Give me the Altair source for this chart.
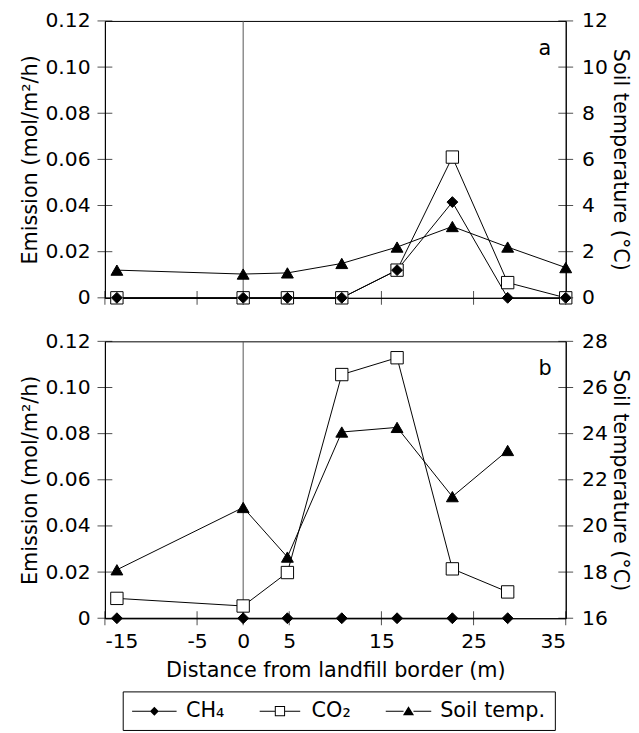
import altair as alt
import pandas as pd

# ---------------- data ----------------
distance_a = [-13.7, 0, 4.8, 10.7, 16.7, 22.7, 28.7, 35]
ch4_a = [0, 0, 0, 0, 0.012, 0.0415, 0, 0]
co2_a = [0, 0, 0, 0, 0.012, 0.061, 0.0066, 0]
temp_a = [1.2, 1.03, 1.08, 1.49, 2.2, 3.09, 2.2, 1.31]

distance_b = [-13.7, 0, 4.8, 10.7, 16.7, 22.7, 28.7]
ch4_b = [0, 0, 0, 0, 0, 0, 0]
co2_b = [0.0086, 0.0053, 0.0198, 0.1056, 0.1129, 0.0214, 0.0114]
temp_b = [18.1, 20.8, 18.65, 24.07, 24.27, 21.27, 23.27]

series_names = ["CH₄", "CO₂", "Soil temp."]
x_ticks = [-15, -5, 0, 5, 15, 25, 35]
emission_ticks = [0, 0.02, 0.04, 0.06, 0.08, 0.10, 0.12]
temp_ticks_a = [0, 2, 4, 6, 8, 10, 12]
temp_ticks_b = [16, 18, 20, 22, 24, 26, 28]
border = [0]

# ---------------- styling ----------------
FONT = "DejaVu Sans"
W, H = 466, 280
LAB = 20.5
TIT = 21
X_MIN, X_MAX = x_ticks[0], x_ticks[-1]
E_MIN, E_MAX = emission_ticks[0], emission_ticks[-1]

x_scale = alt.Scale(domain=[X_MIN, X_MAX], nice=False, zero=False)
e_scale = alt.Scale(domain=[E_MIN, E_MAX], nice=False, zero=False)

# legend symbols (line - marker - line), drawn as filled outlines only
p_ch4 = ("M-2.25,-0.05H-0.42V0.05H-2.25Z M0.42,-0.05H2.25V0.05H0.42Z "
         "M0,-0.45L0.45,0L0,0.45L-0.45,0Z")
p_co2 = ("M-2.05,-0.05H-0.52V0.05H-2.05Z M0.52,-0.05H2.05V0.05H0.52Z "
         "M-0.52,-0.52H0.52V0.52H-0.52Z M-0.42,-0.42V0.42H0.42V-0.42Z")
p_tmp = ("M-2.3,-0.05H-0.5V0.05H-2.3Z M0.5,-0.05H2.3V0.05H0.5Z "
         "M0,-0.5L0.56,0.42L-0.56,0.42Z")
legend_shape_scale = alt.Scale(domain=series_names, range=[p_ch4, p_co2, p_tmp])
legend_fill_scale = alt.Scale(domain=series_names, range=["black", "black", "black"])

legend = alt.Legend(
    title=None,
    orient="none",
    legendX=18,
    legendY=678,
    direction="horizontal",
    strokeColor="black",
    padding=9,
    symbolSize=400,
    symbolOffset=12,
    labelOffset=21,
    columnPadding=32,
    labelFont=FONT,
    labelFontSize=TIT,
    labelColor="black",
    symbolOpacity=1,
)


def panel(dist, ch4, co2, temp, t_domain, t_ticks, tag, bottom):
    n = len(dist)
    df_co2 = pd.DataFrame({"distance": dist, "value": co2, "series": [series_names[1]] * n})
    df_ch4 = pd.DataFrame({"distance": dist, "value": ch4, "series": [series_names[0]] * n})
    em = pd.concat([df_co2, df_ch4], ignore_index=True)
    tp = pd.DataFrame({"distance": dist, "value": temp, "series": [series_names[2]] * n})

    if bottom:
        x_axis = alt.Axis(values=x_ticks, labelExpr="'' + datum.value",
                          title="Distance from landfill border (m)",
                          labelPadding=14, titlePadding=7, orient="bottom")
    else:
        x_axis = alt.Axis(values=x_ticks, labels=False, title="", orient="bottom")

    y_axis = alt.Axis(values=emission_ticks,
                      labelExpr="datum.value == 0 ? '0' : format(datum.value, '.2f')",
                      title="Emission (mol/m²/h)", labelPadding=15, titlePadding=5,
                      orient="left")
    t_scale = alt.Scale(domain=t_domain, nice=False, zero=False)
    t_axis = alt.Axis(values=t_ticks, format="d", orient="right",
                      title="Soil temperature (°C)", labelPadding=16, titlePadding=2)

    def XF(f):
        return alt.X(f, scale=x_scale, axis=x_axis)

    def YEF(f):
        return alt.Y(f, scale=e_scale, axis=y_axis)

    def YTF(f):
        return alt.Y(f, scale=t_scale, axis=t_axis)

    rule = alt.Chart(pd.DataFrame({"distance": border})).mark_rule(
        color="#555", strokeWidth=1
    ).encode(x=XF("distance:Q"))

    em_line = alt.Chart(em).mark_line(color="black", strokeWidth=1).encode(
        x=XF("distance:Q"), y=YEF("value:Q"), detail="series:N",
    )
    co2_pts = alt.Chart(df_co2).mark_point(
        shape="square", filled=True, fill="white", stroke="black", strokeWidth=1, size=156, opacity=1
    ).encode(x=XF("distance:Q"), y=YEF("value:Q"))
    ch4_pts = alt.Chart(df_ch4).mark_point(
        shape="diamond", filled=True, fill="black", stroke="black", strokeWidth=1, size=121, opacity=1
    ).encode(x=XF("distance:Q"), y=YEF("value:Q"))

    yt = pd.DataFrame({"value": emission_ticks, "xl": X_MIN, "xr": X_MAX})
    tick_l = alt.Chart(yt).mark_tick(orient="horizontal", size=15, thickness=1, color="black").encode(
        x=XF("xl:Q"), y=YEF("value:Q"))
    tick_r = alt.Chart(yt).mark_tick(orient="horizontal", size=15, thickness=1, color="black").encode(
        x=XF("xr:Q"), y=YEF("value:Q"))
    xt = pd.DataFrame({"distance": x_ticks, "y0": E_MIN})
    tick_b = alt.Chart(xt).mark_tick(orient="vertical", size=14, thickness=1, color="black").encode(
        x=XF("distance:Q"), y=YEF("y0:Q"))
    tg = pd.DataFrame({"t": [tag], "tx": [X_MAX], "ty": [E_MAX]})
    txt = alt.Chart(tg).mark_text(
        font=FONT, fontSize=TIT, color="black", dx=-21, dy=28, align="center", baseline="middle"
    ).encode(x=XF("tx:Q"), y=YEF("ty:Q"), text="t:N")

    layers = [rule, tick_l, tick_r, tick_b, em_line, co2_pts, ch4_pts, txt]
    if bottom:
        all_rows = pd.concat([df_ch4, df_co2], ignore_index=True)
        leg_layer = alt.Chart(all_rows).mark_point(
            filled=True, size=0, opacity=1
        ).encode(
            x=XF("distance:Q"), y=YEF("value:Q"),
            shape=alt.Shape("series:N", scale=legend_shape_scale, legend=legend),
            fill=alt.Fill("series:N", scale=legend_fill_scale, legend=legend),
        )
        layers.append(leg_layer)
    emission = alt.layer(*layers)

    t_line = alt.Chart(tp).mark_line(color="black", strokeWidth=1).encode(
        x=XF("distance:Q"), y=YTF("value:Q"),
    )
    t_pts = alt.Chart(tp).mark_point(
        shape="triangle-up", filled=True, fill="black", stroke="black", strokeWidth=1, size=144, opacity=1
    ).encode(x=XF("distance:Q"), y=YTF("value:Q"))
    temperature = alt.layer(t_line, t_pts)
    return alt.layer(emission, temperature).resolve_scale(y="independent").properties(width=W, height=H)


top = panel(distance_a, ch4_a, co2_a, temp_a, [0, 12], temp_ticks_a, "a", False)
bot = panel(distance_b, ch4_b, co2_b, temp_b, [16, 28], temp_ticks_b, "b", True)

chart = alt.vconcat(top, bot, spacing=22).properties(
    padding={"left": 10, "top": -2, "right": 0, "bottom": 0}
).configure_view(
    stroke="black", strokeWidth=1
).configure_axis(
    domainColor="black", domainWidth=1, ticks=False, tickSize=0, grid=False,
    labelFont=FONT, labelFontSize=LAB, labelColor="black",
    titleFont=FONT, titleFontSize=TIT, titleFontWeight="normal", titleColor="black",
)

chart.save("out.html", embed_options={"renderer": "svg", "actions": False})
